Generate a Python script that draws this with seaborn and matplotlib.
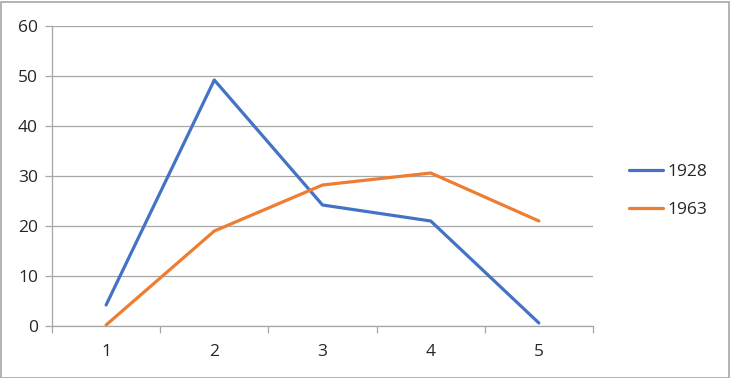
import matplotlib
matplotlib.use("Agg")
import matplotlib.pyplot as plt
import seaborn as sns
import pandas as pd
from matplotlib.patches import Rectangle
from matplotlib.lines import Line2D

categories = [1, 2, 3, 4, 5]
series_1928 = [4.2, 49.2, 24.2, 21.0, 0.6]
series_1963 = [0.2, 19.0, 28.2, 30.6, 21.0]
y_ticks = [0, 10, 20, 30, 40, 50, 60]

df = pd.DataFrame({
    "x": categories * 2,
    "y": series_1928 + series_1963,
    "series": ["1928"] * 5 + ["1963"] * 5,
})

sns.set_theme(style="white")
plt.rcParams['font.family'] = ['Open Sans', 'DejaVu Sans']

fig = plt.figure(figsize=(7.3, 3.78), dpi=100)
ax = fig.add_axes([52/730, 1 - 326/378, (593-52)/730, (326-26)/378])

sns.lineplot(data=df, x="x", y="y", hue="series",
             palette={"1928": "#4472C4", "1963": "#ED7D31"},
             linewidth=2.3, ax=ax, legend=False)

ax.set_xlim(0.5, 5.5)
ax.set_ylim(0, 60)
ax.set_yticks(y_ticks)
ax.set_xticks(categories)
ax.set_xticklabels([str(c) for c in categories])
ax.set_xticks([0.5, 1.5, 2.5, 3.5, 4.5, 5.5], minor=True)
ax.set_xlabel("")
ax.set_ylabel("")

ax.grid(axis="y", color="#A6A6A6", linewidth=0.9)
ax.set_axisbelow(True)
for s in ["top", "right"]:
    ax.spines[s].set_visible(False)
for s in ["left", "bottom"]:
    ax.spines[s].set_color("#A6A6A6")
    ax.spines[s].set_linewidth(0.9)

txt = "#262626"
ax.tick_params(axis="y", which="major", length=5, width=0.9, color="#A6A6A6",
               labelsize=12.5, labelcolor=txt, pad=5, left=True)
ax.tick_params(axis="x", which="major", length=0, labelsize=12.5,
               labelcolor=txt, pad=13)
ax.tick_params(axis="x", which="minor", length=5, width=0.9, color="#A6A6A6",
               bottom=True)

handles = [Line2D([], [], color="#4472C4", lw=2.3),
           Line2D([], [], color="#ED7D31", lw=2.3)]
fig.legend(handles, ["1928", "1963"], loc="center left",
           bbox_to_anchor=(613/730, 1 - 191/378), frameon=False,
           fontsize=12.5, labelspacing=1.25, handlelength=2.0,
           handletextpad=0.25, labelcolor=txt)

fig.patches.append(Rectangle((0.5/730, 0.5/378), 728.5/730, 376/378,
                             transform=fig.transFigure, fill=False,
                             edgecolor="#A6A6A6", linewidth=1.2))

fig.savefig("out.png", dpi=100)
